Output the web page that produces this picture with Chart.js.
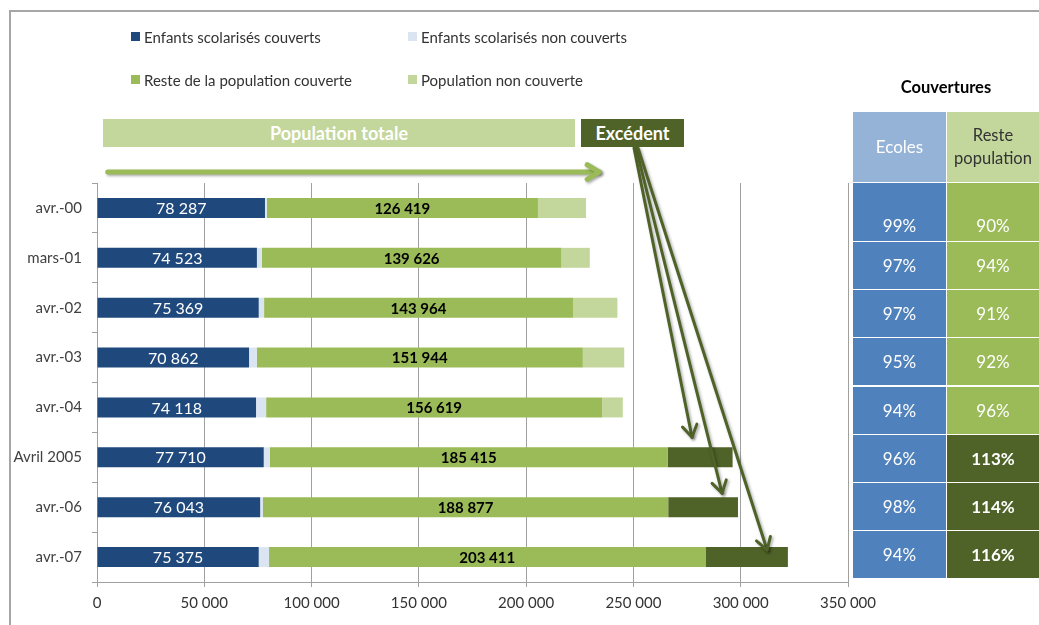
<!DOCTYPE html>
<html lang="fr">
<head>
<meta charset="utf-8">
<title>Couvertures</title>
<script src="https://cdn.jsdelivr.net/npm/chart.js@4/dist/chart.umd.min.js"></script>
<style>
  body { margin: 0; background: #fff; font-family: Lato, "Open Sans", sans-serif; }
  #page { position: relative; width: 1039px; height: 625px; overflow: hidden; }
  #cadre { position: absolute; left: 9px; top: 10px; width: 1100px; height: 700px;
           border-left: 2px solid #a6a6a6; border-top: 2px solid #a6a6a6; }
  canvas { position: absolute; left: 0; top: 0; }
  .leg { position: absolute; font-size: 15px; color: #333; line-height: 18px; white-space: nowrap; }
  .leg i { position: absolute; left: -13px; top: 4px; width: 9px; height: 9px; }
  .banner { position: absolute; color: #fff; font-weight: bold; font-size: 18px; text-align: center; }
  #titreTable { position: absolute; left: 853px; width: 186px; top: 77px; text-align: center;
                font-weight: bold; font-size: 16.5px; color: #000; }
  .cell { position: absolute; text-align: center; font-size: 17px; color: #fff; }
</style>
</head>
<body>
<div id="page">
  <div id="cadre"></div>
  <canvas id="graph" width="1039" height="625"></canvas>
  <div id="legende"></div>
  <div class="banner" style="left:103px;top:119px;width:472px;height:28px;line-height:28px;background:#c3d69b;">Population totale</div>
  <div class="banner" style="left:581px;top:119px;width:103px;height:28px;line-height:28px;background:#4f6228;">Excédent</div>
  <div id="titreTable">Couvertures</div>
  <div id="tableau"></div>
</div>
<script>
// === DONNÉES ===
const categories = ["avr.-00", "mars-01", "avr.-02", "avr.-03", "avr.-04", "Avril 2005", "avr.-06", "avr.-07"];
const enfantsCouverts = [78287, 74523, 75369, 70862, 74118, 77710, 76043, 75375];
const enfantsNonCouverts = [800, 2300, 2500, 3600, 4700, 2800, 1300, 4800];
const resteCouverte = [126419, 139626, 143964, 151944, 156619, 185415, 188877, 203411];
const populationNonCouverte = [22400, 13200, 20700, 19300, 9600, 0, 0, 0];
const excedent = [0, 0, 0, 0, 0, 30300, 32500, 38400];

const couvEcoles = ["99%", "97%", "97%", "95%", "94%", "96%", "98%", "94%"];
const couvReste = ["90%", "94%", "91%", "92%", "96%", "113%", "114%", "116%"];

const xMax = 350000;
const xPas = 50000;

// flèches (valeur visée sur l'axe, ligne, décalage vertical)
const flechesExcedent = [
  { ligne: 5, valeur: 277300, dy: -20, depart: 634 },
  { ligne: 6, valeur: 291300, dy: -14, depart: 636 },
  { ligne: 7, valeur: 312300, dy: -7, depart: 638 }
];

const couleurs = ["#1f497d", "#dbe5f1", "#9bbb59", "#c3d69b", "#4f6228"];
const noms = ["Enfants scolarisés couverts", "Enfants scolarisés non couverts",
              "Reste de la population couverte", "Population non couverte", "Excédent"];

function formatNombre(n) {
  return String(Math.round(n)).replace(/\B(?=(\d{3})+(?!\d))/g, " ");
}

// === LÉGENDE ===
const legPos = [[144, 28], [421, 28], [144, 71], [421, 71]];
const legende = document.getElementById("legende");
legPos.forEach((p, i) => {
  const d = document.createElement("div");
  d.className = "leg";
  d.style.left = p[0] + "px";
  d.style.top = p[1] + "px";
  d.innerHTML = `<i style="background:${couleurs[i]}"></i>${noms[i]}`;
  legende.appendChild(d);
});

// === TABLEAU COUVERTURES ===
const tableau = document.getElementById("tableau");
function cellule(x, y, w, h, fond, html, style) {
  const c = document.createElement("div");
  c.className = "cell";
  c.style.cssText = `left:${x}px;top:${y}px;width:${w}px;height:${h}px;background:${fond};` + (style || "");
  c.innerHTML = html;
  tableau.appendChild(c);
}
cellule(853, 112, 93, 70, "#95b3d7", "Ecoles", "line-height:70px;");
cellule(947, 112, 92, 70, "#c3d69b", "Reste<br>population", "line-height:23px;font-size:16.5px;color:#333;display:flex;align-items:center;justify-content:center;");
couvEcoles.forEach((v, i) => {
  let y = i === 0 ? 183 : 242 + Math.round((i - 1) * 48.2);
  let h = i === 0 ? 58 : 47;
  let lh = i === 0 ? "padding-top:30px;height:28px;line-height:26px;" : `line-height:${h}px;`;
  cellule(853, y, 93, h, "#4f81bd", v, lh);
  const ex = excedent[i] > 0;
  cellule(947, y, 92, h, ex ? "#4f6228" : "#9bbb59", couvReste[i], lh + (ex ? "font-weight:bold;" : ""));
});

// === PLUGIN ÉTIQUETTES ===
const etiquettes = {
  id: "etiquettes",
  afterDatasetsDraw(chart) {
    const ctx = chart.ctx;
    ctx.save();
    ctx.textAlign = "center";
    ctx.textBaseline = "middle";
    [0, 2].forEach(ds => {
      const meta = chart.getDatasetMeta(ds);
      meta.data.forEach((bar, i) => {
        const cx = (bar.x + bar.base) / 2;
        if (ds === 0) {
          ctx.fillStyle = "#fff";
          ctx.font = "16px Lato";
        } else {
          ctx.fillStyle = "#000";
          ctx.font = "bold 15px Lato";
        }
        ctx.fillText(formatNombre(chart.data.datasets[ds].data[i]), cx, bar.y + 1);
      });
    });
    ctx.restore();
  }
};

function fleche(ctx, x1, y1, x2, y2, taille) {
  const a = Math.atan2(y2 - y1, x2 - x1);
  ctx.beginPath();
  ctx.moveTo(x1, y1);
  ctx.lineTo(x2, y2);
  ctx.stroke();
  ctx.beginPath();
  ctx.moveTo(x2 - taille * Math.cos(a - 0.55), y2 - taille * Math.sin(a - 0.55));
  ctx.lineTo(x2, y2);
  ctx.lineTo(x2 - taille * Math.cos(a + 0.55), y2 - taille * Math.sin(a + 0.55));
  ctx.stroke();
}

// === PLUGIN FLÈCHES ===
const fleches = {
  id: "fleches",
  afterDraw(chart) {
    const ctx = chart.ctx;
    const xs = chart.scales.x, ys = chart.scales.y;
    ctx.save();
    ctx.lineCap = "round";
    ctx.lineJoin = "round";
    ctx.shadowColor = "rgba(0,0,0,0.35)";
    ctx.shadowBlur = 3;
    ctx.shadowOffsetX = 1.5;
    ctx.shadowOffsetY = 1.5;
    // population totale
    ctx.strokeStyle = "#9bbb59";
    ctx.lineWidth = 5;
    const yTot = chart.chartArea.top - 11;
    fleche(ctx, xs.getPixelForValue(5000), yTot, xs.getPixelForValue(234000), yTot, 14);
    // excédent
    ctx.strokeStyle = "#4f6228";
    ctx.lineWidth = 3;
    flechesExcedent.forEach(f => {
      const tx = xs.getPixelForValue(f.valeur);
      const ty = ys.getPixelForValue(f.ligne) + f.dy;
      fleche(ctx, f.depart, 148, tx, ty, 14);
    });
    ctx.restore();
  }
};

// === GRAPHIQUE ===
const series = [enfantsCouverts, enfantsNonCouverts, resteCouverte, populationNonCouverte, excedent];
new Chart(document.getElementById("graph"), {
  type: "bar",
  data: {
    labels: categories,
    datasets: series.map((s, i) => ({
      label: noms[i],
      data: s,
      backgroundColor: couleurs[i],
      borderWidth: 0,
      barPercentage: 0.4,
      categoryPercentage: 1
    }))
  },
  options: {
    indexAxis: "y",
    responsive: false,
    devicePixelRatio: 1,
    animation: false,
    layout: { padding: { left: 0, top: 183, right: 191, bottom: 13 } },
    plugins: { legend: { display: false }, tooltip: { enabled: false } },
    scales: {
      x: {
        stacked: true,
        min: 0,
        max: xMax,
        afterFit: s => { s.height = 30; },
        ticks: {
          stepSize: xPas,
          padding: 7,
          color: "#333",
          font: { family: "Lato", size: 15 },
          callback: v => formatNombre(v)
        },
        grid: { color: "#a0a0a0", lineWidth: 1, tickLength: 5 },
        border: { color: "#a0a0a0" }
      },
      y: {
        stacked: true,
        afterFit: s => { s.width = 97; },
        ticks: { padding: 10, color: "#404040", font: { family: "Lato", size: 15 } },
        grid: { drawOnChartArea: false, color: "#a0a0a0", tickLength: 5 },
        border: { color: "#a0a0a0" }
      }
    }
  },
  plugins: [etiquettes, fleches]
});
</script>
</body>
</html>
